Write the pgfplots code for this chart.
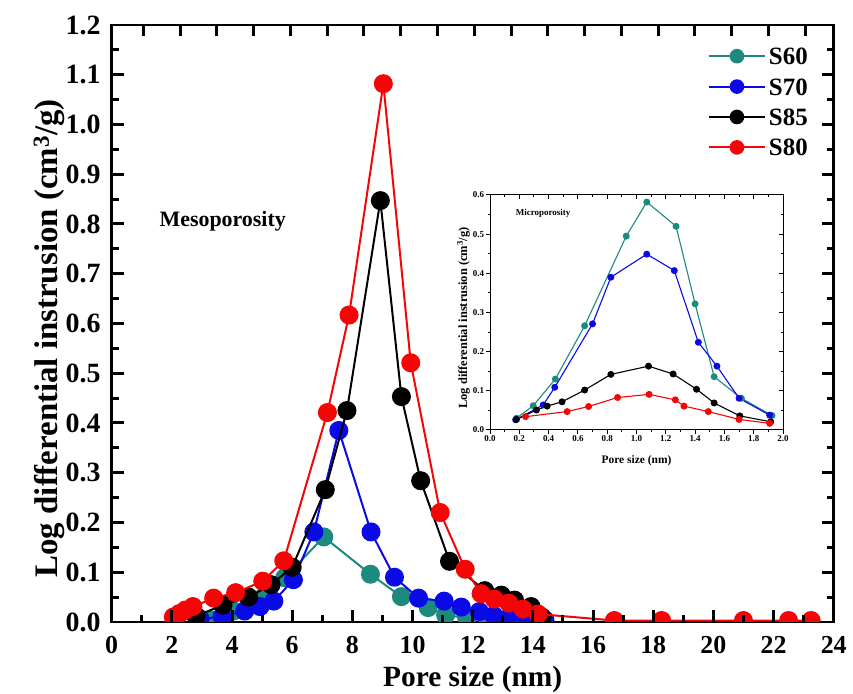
\documentclass[border=0pt]{standalone}
\usepackage{pgfplots}
\pgfplotsset{compat=1.18}
\usepackage{fontspec}
\setmainfont{Liberation Serif}

\definecolor{cS60}{RGB}{28,138,126}
\definecolor{cS70}{RGB}{10,10,230}
\definecolor{cS85}{RGB}{0,0,0}
\definecolor{cS80}{RGB}{245,5,5}

\newcommand{\fs}[1]{\fontsize{#1}{#1}\selectfont\bfseries}

\begin{document}
\begin{tikzpicture}
\useasboundingbox (0bp,0bp) rectangle (853bp,694bp);

% main plot
\begin{axis}[
  at={(111.7bp,72bp)}, anchor=south west,
  scale only axis, width=722bp, height=597bp,
  xmin=0, xmax=24, ymin=0, ymax=1.2,
  xtick distance=2, ytick distance=0.1,
  xtick pos=left, ytick pos=left,
  tick style={draw=none},
  axis line style={line width=2.5bp},
  clip marker paths=true,
  /pgf/number format/assume math mode=true,
  yticklabel style={/pgf/number format/fixed, /pgf/number format/fixed zerofill,
    /pgf/number format/precision=1, font=\fs{28}, inner sep=0pt, anchor=east, xshift=-11bp},
  xticklabel style={font=\fs{26}, inner sep=0pt, anchor=base, yshift=-31bp},
  xlabel={Pore size (nm)},
  ylabel={Log differential instrusion (cm\textsuperscript{3}/g)},
  xlabel style={font=\fs{29.5}, at={(axis description cs:0.5,0)}, anchor=base, yshift=-64bp},
  ylabel style={font=\fs{33}, at={(axis description cs:-0.0744,0.475)}, anchor=base},
  every axis plot/.append style={line width=2bp},
  legend image code/.code={
    \draw[mark repeat=2, mark phase=2, #1, mark size=6.3bp]
      plot coordinates {(0bp,0bp) (28bp,0bp) (56bp,0bp)};},
  legend style={draw=none, fill=none, at={(axis description cs:0.964,0.962)},
    anchor=north east, inner sep=0pt, outer sep=0pt, row sep=13.4bp, column sep=3bp,
    font=\fs{25}, nodes={inner sep=0pt, text height=17bp, text depth=0bp}},
  legend cell align=left,
]

\addplot[color=cS60, mark=*, mark size=8.5bp, mark options={solid, fill=cS60, draw=cS60}]
  coordinates {
  (3.3,0.004) (4.05,0.022) (4.55,0.033) (5.05,0.050) (5.75,0.089) (7.05,0.171)
  (8.6,0.096) (9.63,0.051) (10.52,0.029) (11.1,0.014) (11.8,0.008) (12.5,0.005)
  (13.3,0.003)
  };
\addlegendentry{S60}

\addplot[color=cS70, mark=*, mark size=8.5bp, mark options={solid, fill=cS70, draw=cS70}]
  coordinates {
  (2.94,0.006) (3.67,0.011) (4.42,0.022) (4.93,0.031) (5.39,0.042) (6.04,0.085)
  (6.72,0.181) (7.55,0.385) (8.62,0.181) (9.4,0.090) (10.2,0.048) (11.05,0.042)
  (11.62,0.030) (12.22,0.021) (12.7,0.013) (13.2,0.009) (13.8,0.006) (14.4,0.004)
  };
\addlegendentry{S70}

\addplot[color=cS85, mark=*, mark size=8.5bp, mark options={solid, fill=cS85, draw=cS85}]
  coordinates {
  (2.8,0.012) (3.7,0.034) (4.55,0.050) (5.3,0.075) (6.0,0.110) (7.1,0.266)
  (7.82,0.425) (8.93,0.847) (9.63,0.453) (10.27,0.284) (11.23,0.122) (12.4,0.063)
  (12.95,0.054) (13.39,0.044) (13.94,0.031) (14.3,0.010)
  };
\addlegendentry{S85}

\addplot[color=cS80, mark=*, mark size=8.5bp, mark options={solid, fill=cS80, draw=cS80}]
  coordinates {
  (2.05,0.010) (2.25,0.017) (2.45,0.024) (2.7,0.031) (3.39,0.048) (4.12,0.059)
  (5.02,0.082) (5.72,0.123) (7.17,0.421) (7.89,0.617) (9.03,1.082) (9.94,0.521)
  (10.92,0.220) (11.75,0.106) (12.28,0.057) (12.72,0.046) (13.2,0.038) (13.67,0.026)
  (14.17,0.016) (16.71,0.003) (18.28,0.003) (21.0,0.003) (22.5,0.003) (23.25,0.003)
  };
\addlegendentry{S80}

% tick marks, all pointing inwards
\pgfplotsinvokeforeach{2,4,...,22}{\draw[black, line width=3bp] (axis cs:#1,0) -- ++(0bp,12bp);}
\pgfplotsinvokeforeach{1,3,...,23}{\draw[black, line width=3bp] (axis cs:#1,0) -- ++(0bp,7bp);}
\pgfplotsinvokeforeach{0.1,0.2,0.3,0.4,0.5,0.6,0.7,0.8,0.9,1.0,1.1}{
  \draw[black, line width=3bp] (axis cs:0,#1) -- ++(12bp,0bp);
  \draw[black, line width=3bp] (axis cs:24,#1) -- ++(-12bp,0bp);}
\pgfplotsinvokeforeach{0.05,0.15,0.25,0.35,0.45,0.55,0.65,0.75,0.85,0.95,1.05,1.15}{
  \draw[black, line width=3bp] (axis cs:0,#1) -- ++(7bp,0bp);
  \draw[black, line width=3bp] (axis cs:24,#1) -- ++(-7bp,0bp);}
\pgfplotsinvokeforeach{1.054,2.276,3.498,4.72,5.942,7.164,8.386,9.608,10.83,12.052,
  13.274,14.496,15.718,16.94,18.162,19.384,20.606,21.828,23.05}{
  \draw[black, line width=3bp] (axis cs:#1,1.2) -- ++(0bp,-11bp);}

\node[font=\fs{22}] at (axis cs:3.69,0.805) {Mesoporosity};
\end{axis}

% inset
\begin{axis}[
  at={(490bp,264bp)}, anchor=south west,
  scale only axis, width=293bp, height=235bp,
  xmin=0, xmax=2, ymin=0, ymax=0.6,
  xtick distance=0.2, ytick distance=0.1,
  xtick pos=left, ytick pos=left,
  tick style={draw=none},
  clip=false,
  axis line style={line width=1bp},
  /pgf/number format/assume math mode=true,
  ticklabel style={font=\fs{9}, /pgf/number format/fixed,
    /pgf/number format/fixed zerofill, /pgf/number format/precision=1},
  xticklabel style={yshift=-2.5bp}, yticklabel style={xshift=-2.5bp},
  xlabel={Pore size (nm)},
  ylabel={Log differential instrusion (cm\textsuperscript{3}/g)},
  xlabel style={font=\fs{11.5}, at={(axis description cs:0.5,0)}, anchor=base, yshift=-34bp},
  ylabel style={font=\fs{12.5}, at={(axis description cs:-0.078,0.477)}, anchor=base},
  every axis plot/.append style={line width=1.1bp},
]
\addplot[color=cS60, mark=*, mark size=2.9bp, mark options={solid, fill=cS60, draw=cS60}]
  coordinates {
  (0.18,0.030) (0.295,0.062) (0.446,0.130) (0.646,0.266) (0.93,0.495) (1.07,0.582)
  (1.27,0.520) (1.40,0.322) (1.53,0.136) (1.716,0.081) (1.925,0.037)
  };
\addplot[color=cS70, mark=*, mark size=2.9bp, mark options={solid, fill=cS70, draw=cS70}]
  coordinates {
  (0.175,0.026) (0.363,0.064) (0.442,0.109) (0.70,0.271) (0.825,0.390) (1.07,0.449)
  (1.258,0.407) (1.422,0.224) (1.549,0.163) (1.70,0.081) (1.909,0.038)
  };
\addplot[color=cS85, mark=*, mark size=2.9bp, mark options={solid, fill=cS85, draw=cS85}]
  coordinates {
  (0.181,0.027) (0.317,0.051) (0.39,0.061) (0.492,0.072) (0.646,0.102) (0.825,0.142)
  (1.082,0.163) (1.25,0.143) (1.41,0.104) (1.53,0.069) (1.705,0.036) (1.916,0.021)
  };
\addplot[color=cS80, mark=*, mark size=2.9bp, mark options={solid, fill=cS80, draw=cS80}]
  coordinates {
  (0.243,0.034) (0.526,0.047) (0.673,0.060) (0.871,0.083) (1.086,0.091) (1.265,0.077)
  (1.324,0.061) (1.49,0.047) (1.70,0.027) (1.909,0.017)
  };

% inset tick marks: outwards at bottom and left, inwards at top and right
\pgfplotsinvokeforeach{0,0.2,0.4,0.6,0.8,1.0,1.2,1.4,1.6,1.8,2.0}{
  \draw[black, line width=1bp] (axis cs:#1,0) -- ++(0bp,-4bp);
  \draw[black, line width=1bp] (axis cs:#1,0.6) -- ++(0bp,-4bp);}
\pgfplotsinvokeforeach{0.1,0.3,0.5,0.7,0.9,1.1,1.3,1.5,1.7,1.9}{
  \draw[black, line width=1bp] (axis cs:#1,0) -- ++(0bp,-2.5bp);
  \draw[black, line width=1bp] (axis cs:#1,0.6) -- ++(0bp,-2.5bp);}
\pgfplotsinvokeforeach{0,0.1,0.2,0.3,0.4,0.5,0.6}{
  \draw[black, line width=1bp] (axis cs:0,#1) -- ++(-4bp,0bp);
  \draw[black, line width=1bp] (axis cs:2,#1) -- ++(-4bp,0bp);}
\pgfplotsinvokeforeach{0.05,0.15,0.25,0.35,0.45,0.55}{
  \draw[black, line width=1bp] (axis cs:0,#1) -- ++(-2.5bp,0bp);
  \draw[black, line width=1bp] (axis cs:2,#1) -- ++(-2.5bp,0bp);}

\node[font=\fs{9}] at (axis cs:0.362,0.554) {Microporosity};
\end{axis}
\end{tikzpicture}
\end{document}
